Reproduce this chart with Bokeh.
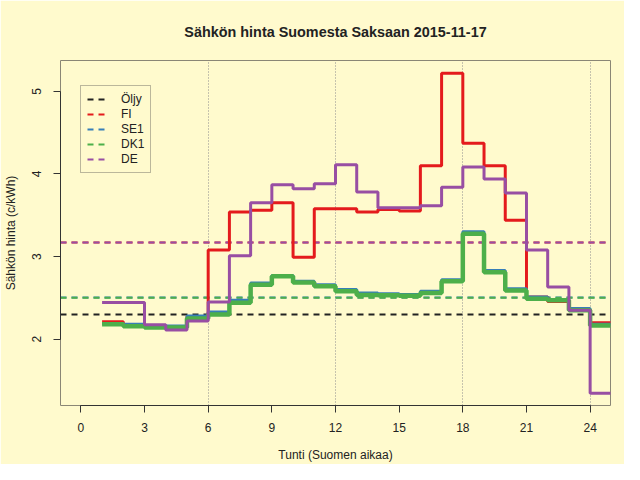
from bokeh.plotting import figure
from bokeh.models import Range1d, Legend, LegendItem, FixedTicker
from bokeh.embed import file_html
from bokeh.resources import INLINE

# ---- data ----
hours = list(range(1, 25))
FI = [2.21, 2.17, 2.15, 2.15, 2.27, 3.08, 3.54, 3.56, 3.65, 2.99, 3.58, 3.58,
      3.54, 3.57, 3.55, 4.10, 5.22, 4.37, 4.10, 3.44, 2.51, 2.455, 2.36, 2.20]
SE1 = [2.19, 2.18, 2.16, 2.16, 2.28, 2.33, 2.47, 2.68, 2.77, 2.70, 2.66, 2.60,
       2.56, 2.55, 2.54, 2.58, 2.72, 3.30, 2.83, 2.61, 2.51, 2.48, 2.37, 2.18]
DK1 = [2.18, 2.155, 2.14, 2.14, 2.25, 2.30, 2.44, 2.66, 2.76, 2.685, 2.64, 2.58,
       2.535, 2.53, 2.525, 2.56, 2.70, 3.275, 2.81, 2.59, 2.49, 2.47, 2.35, 2.165]
DE = [2.445, 2.445, 2.175, 2.11, 2.22, 2.45, 3.01, 3.65, 3.87, 3.82, 3.88, 4.11,
      3.78, 3.59, 3.59, 3.615, 3.84, 4.085, 3.94, 3.77, 3.08, 2.63, 2.35, 1.345]
# horizontal dashed reference levels (oil price and daily averages)
oil_level = 2.30
fi_avg = 3.17
se1_avg = 2.505
dk1_avg = 2.50
de_avg = 3.17
legend_labels = ["Öljy", "FI", "SE1", "DK1", "DE"]
x_ticks = [0, 3, 6, 9, 12, 15, 18, 21, 24]
y_ticks = [2, 3, 4, 5]
vgrid_ticks = [6, 12, 18, 24]

BG = "#FFFACD"
FONT = "Liberation Sans"
C_OIL, C_FI, C_SE, C_DK, C_DE = "#222222", "#E41A1C", "#377EB8", "#4DAF4A", "#984EA3"

xr = Range1d(-0.96, 24.96)
p = figure(width=624, height=464, output_backend="svg", toolbar_location=None,
           x_range=xr, y_range=Range1d(1.197, 5.373),
           min_border_left=59, min_border_right=14, min_border_top=59,
           min_border_bottom=58, background_fill_color=BG, border_fill_color=BG,
           title="Sähkön hinta Suomesta Saksaan 2015-11-17")

p.title.align = "center"
p.title.text_font = FONT
p.title.text_font_size = "14.4px"
p.title.text_font_style = "bold"
p.title.text_color = "#222222"
p.title.standoff = 42

p.outline_line_color = "#8a8675"
p.outline_line_width = 1

# grids
p.ygrid.visible = False
p.xgrid.ticker = FixedTicker(ticks=vgrid_ticks)
p.xgrid.grid_line_color = "#8c8c8c"
p.xgrid.grid_line_dash = "1 2"
p.xgrid.grid_line_width = 1

# axes
for ax in (p.xaxis[0], p.yaxis[0]):
    ax.axis_line_color = "#333333"
    ax.major_tick_line_color = "#333333"
    ax.major_tick_in = 0
    ax.major_tick_out = 7
    ax.minor_tick_line_color = None
    ax.major_label_text_font = FONT
    ax.major_label_text_font_size = "12px"
    ax.major_label_text_color = "#222222"
    ax.axis_label_text_font = FONT
    ax.axis_label_text_font_size = "12px"
    ax.axis_label_text_font_style = "normal"
    ax.axis_label_text_color = "#222222"

p.xaxis.ticker = FixedTicker(ticks=x_ticks)
p.xaxis.bounds = (x_ticks[0], x_ticks[-1])
p.xaxis.major_label_standoff = 10
p.xaxis.axis_label = "Tunti (Suomen aikaa)"
p.xaxis.axis_label_standoff = 13

p.yaxis.ticker = FixedTicker(ticks=y_ticks)
p.yaxis.bounds = (y_ticks[0], y_ticks[-1])
p.yaxis.major_label_orientation = "vertical"
p.yaxis.major_label_standoff = 12
p.yaxis.axis_label = "Sähkön hinta (c/kWh)"
p.yaxis.axis_label_standoff = 12

# dashed reference lines across the whole plot width
span_x = [xr.start, xr.end]
ref_renderers = []
for val, col in ((oil_level, C_OIL), (fi_avg, C_FI), (se1_avg, C_SE),
                 (dk1_avg, C_DK), (de_avg, C_DE)):
    r = p.line(span_x, [val, val], line_color=col, line_width=2, line_dash="6 5")
    ref_renderers.append(r)

# step lines (each hour spans h .. h+1)
xs = hours + [hours[-1] + 1]
def ext(v):
    return v + [v[-1]]

p.step(xs, ext(FI), mode="after", line_color=C_FI, line_width=3)
p.step(xs, ext(SE1), mode="after", line_color=C_SE, line_width=3)
p.step(xs, ext(DK1), mode="after", line_color=C_DK, line_width=4.5)
p.step(xs, ext(DE), mode="after", line_color=C_DE, line_width=3)

# legend with dashed keys
items = [LegendItem(label=lab, renderers=[r]) for lab, r in zip(legend_labels, ref_renderers)]
legend = Legend(items=items, location=(20, 232), orientation="vertical",
                glyph_width=20, glyph_height=14, label_height=14, spacing=1,
                padding=6, margin=0, label_standoff=14,
                label_text_font=FONT, label_text_font_size="12px",
                label_text_color="#222222",
                border_line_color="#77746a", border_line_width=1,
                background_fill_color=BG, background_fill_alpha=1.0)
p.add_layout(legend, "center")

open("out.html", "w").write(file_html(p, INLINE))
